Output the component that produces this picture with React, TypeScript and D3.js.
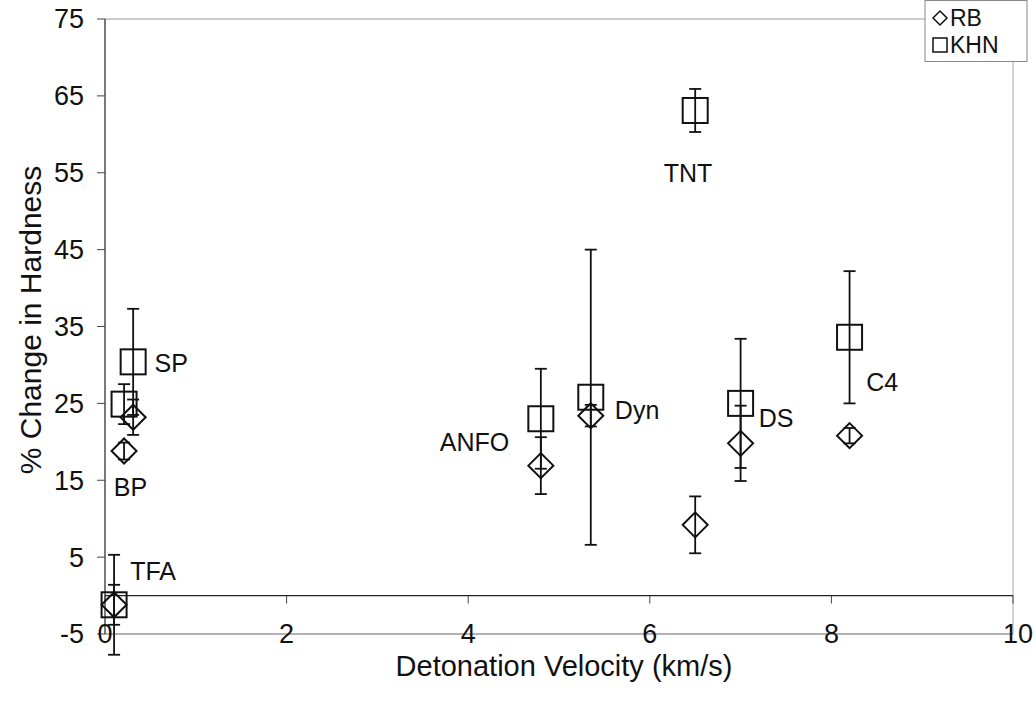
import React from "react";
import * as d3 from "d3";

const materials = ["TFA", "BP", "SP", "ANFO", "Dyn", "TNT", "DS", "C4"];
const velocity = [0.1, 0.21, 0.31, 4.8, 5.35, 6.5, 7.0, 8.2];
const rb = [-1.2, 18.8, 23.2, 16.9, 23.4, 9.2, 19.8, 20.8];
const rbErr = [2.6, 1.1, 2.3, 3.7, 1.4, 3.7, 4.9, 1.0];
const khn = [-1.2, 24.9, 30.4, 23.0, 25.8, 63.1, 25.0, 33.6];
const khnErr = [6.5, 2.6, 6.9, 6.5, 19.2, 2.8, 8.4, 8.6];
// annotation anchor positions in data units
const labelX = [0.53, 0.28, 0.73, 4.07, 5.86, 6.42, 7.39, 8.56];
const labelY = [3.1, 14.1, 30.2, 19.9, 24.1, 55.0, 23.1, 27.7];

const xTicks = [0, 2, 4, 6, 8, 10];
const yTicks = [-5, 5, 15, 25, 35, 45, 55, 65, 75];
const seriesNames = ["RB", "KHN"];

const W = 1036;
const H = 703;
const FONT = "'Liberation Sans', Arial, sans-serif";

export default function App() {
  const x = d3.scaleLinear().domain([0, 10]).range([105, 1013]);
  const y = d3.scaleLinear().domain([-5, 75]).range([634, 19]);
  const half = 12.5;
  const cap = 6;

  const diamond = (cx: number, cy: number, h: number) =>
    `M${cx},${cy - h}L${cx + h},${cy}L${cx},${cy + h}L${cx - h},${cy}Z`;

  const errBar = (cx: number, v: number, e: number, key: string) => {
    const y1 = y(v + e);
    const y2 = y(v - e);
    return (
      <g key={key} stroke="#111" strokeWidth={1.8}>
        <line x1={cx} x2={cx} y1={y1} y2={y2} />
        <line x1={cx - cap} x2={cx + cap} y1={y1} y2={y1} />
        <line x1={cx - cap} x2={cx + cap} y1={y2} y2={y2} />
      </g>
    );
  };

  return (
    <svg
      width={W}
      height={H}
      style={{ position: "absolute", left: 0, top: 0, background: "#fff" }}
      fontFamily={FONT}
    >
      {/* frame */}
      <line x1={x(0)} x2={925} y1={y(75)} y2={y(75)} stroke="#999" strokeWidth={1} />
      <line x1={x(10)} x2={x(10)} y1={62} y2={y(-5)} stroke="#aaa" strokeWidth={1} />
      <line x1={x(0)} x2={x(10)} y1={y(-5)} y2={y(-5)} stroke="#666" strokeWidth={1.2} />
      <line x1={x(0)} x2={x(0)} y1={y(75)} y2={y(-5)} stroke="#222" strokeWidth={1.2} />
      {/* zero line with x ticks */}
      <line x1={x(0)} x2={x(10)} y1={y(0)} y2={y(0)} stroke="#222" strokeWidth={1.2} />
      {xTicks.map((t) => (
        <line key={"xt" + t} x1={x(t)} x2={x(t)} y1={y(0)} y2={y(0) + 8} stroke="#444" strokeWidth={1} />
      ))}
      {yTicks.map((t) => (
        <line key={"yt" + t} x1={x(0) - 8} x2={x(0)} y1={y(t)} y2={y(t)} stroke="#444" strokeWidth={1} />
      ))}
      {/* tick labels */}
      {yTicks.map((t) => (
        <text key={"yl" + t} x={84} y={y(t)} dy="0.35em" textAnchor="end" fontSize={27} fill="#111">
          {t}
        </text>
      ))}
      {xTicks.map((t) => (
        <text key={"xl" + t} x={x(t) + (t === 10 ? 5 : 0)} y={y(-5)} dy="0.35em" textAnchor="middle" fontSize={27} fill="#111">
          {t}
        </text>
      ))}
      {/* axis titles */}
      <text x={564} y={676} textAnchor="middle" fontSize={29} fill="#111">
        Detonation Velocity (km/s)
      </text>
      <text
        transform={`translate(41,${320}) rotate(-90)`}
        textAnchor="middle"
        fontSize={30}
        fill="#111"
      >
        % Change in Hardness
      </text>

      {/* error bars */}
      {materials.map((m, i) => errBar(x(velocity[i]), khn[i], khnErr[i], "ek" + m))}
      {materials.map((m, i) => errBar(x(velocity[i]), rb[i], rbErr[i], "er" + m))}

      {/* markers */}
      {materials.map((m, i) => (
        <rect
          key={"sq" + m}
          x={x(velocity[i]) - half}
          y={y(khn[i]) - half}
          width={half * 2}
          height={half * 2}
          fill="none"
          stroke="#111"
          strokeWidth={2}
        />
      ))}
      {materials.map((m, i) => (
        <path key={"dm" + m} d={diamond(x(velocity[i]), y(rb[i]), half)} fill="none" stroke="#111" strokeWidth={2} />
      ))}

      {/* annotations */}
      {materials.map((m, i) => (
        <text key={"lb" + m} x={x(labelX[i])} y={y(labelY[i])} dy="0.35em" textAnchor="middle" fontSize={25} fill="#111">
          {m}
        </text>
      ))}

      {/* legend */}
      <rect x={925} y={0.5} width={102} height={61} fill="#fff" stroke="#888" strokeWidth={1} />
      <path d={diamond(940, 18, 7)} fill="none" stroke="#111" strokeWidth={1.5} />
      <text x={950} y={18} dy="0.35em" fontSize={23} fill="#111">
        {seriesNames[0]}
      </text>
      <rect x={933} y={38} width={14} height={14} fill="none" stroke="#111" strokeWidth={1.5} />
      <text x={950} y={45} dy="0.35em" fontSize={23} fill="#111">
        {seriesNames[1]}
      </text>
    </svg>
  );
}
